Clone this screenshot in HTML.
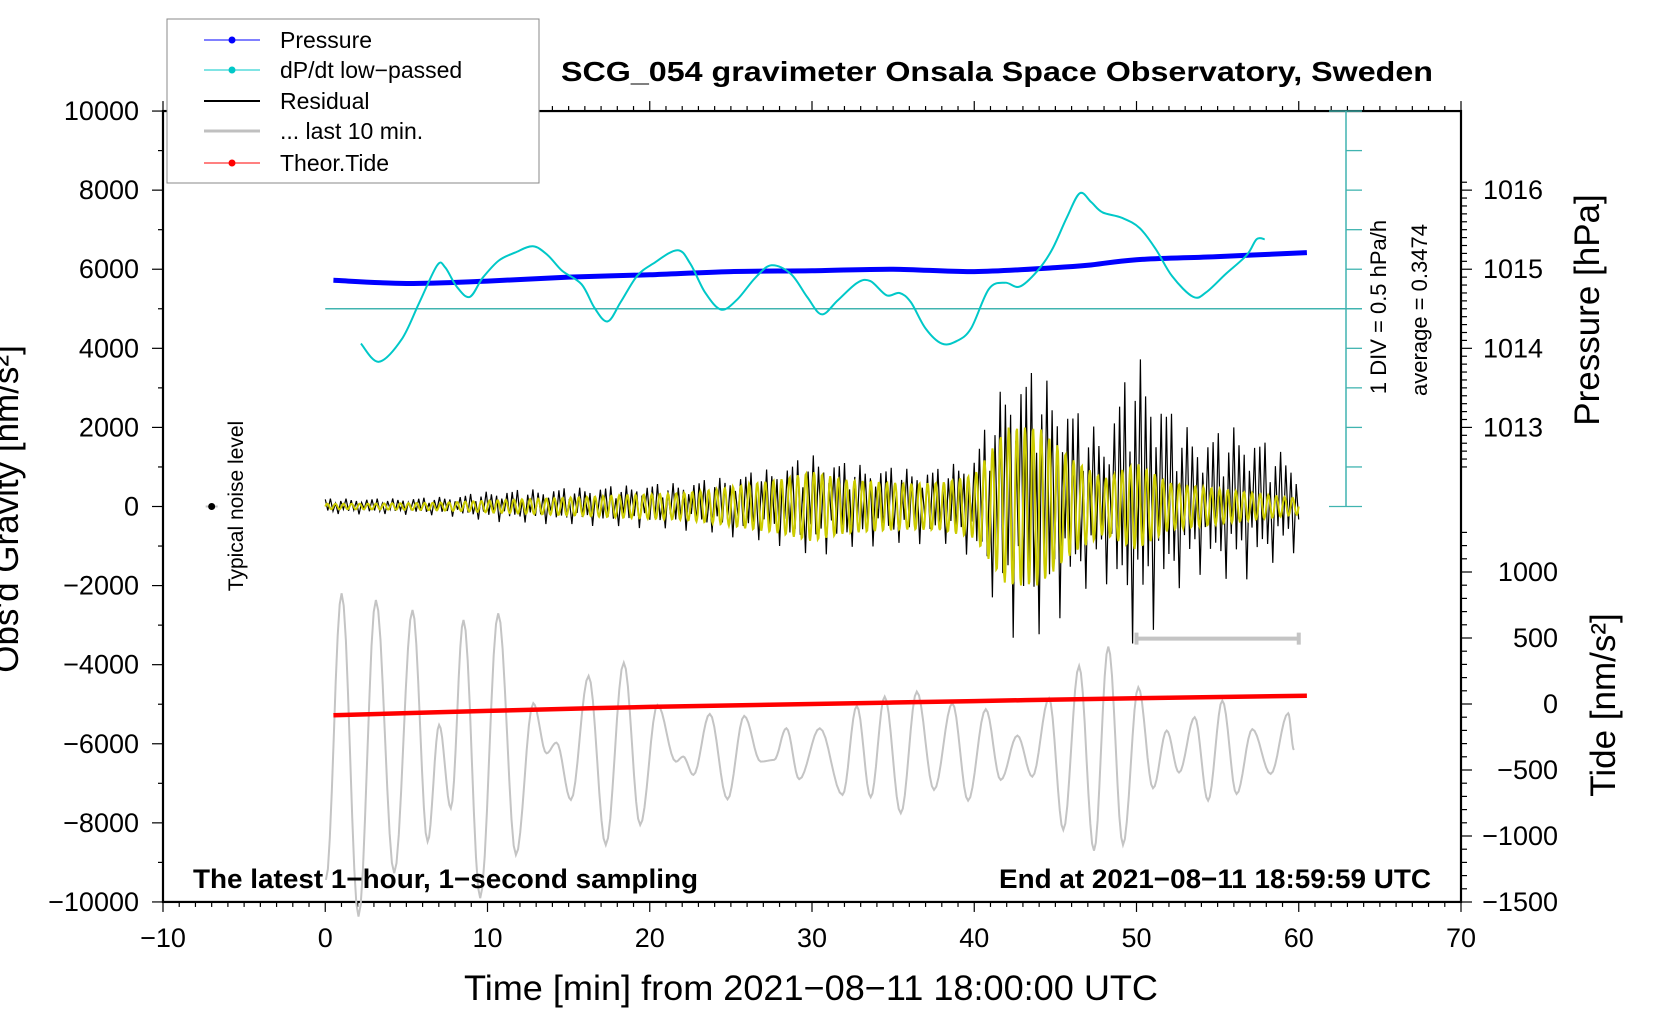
<!DOCTYPE html>
<html><head><meta charset="utf-8"><style>
html,body{margin:0;padding:0;background:#fff;}
svg{display:block;font-family:"Liberation Sans",Arial,sans-serif;}
</style></head><body>
<svg id="chart" width="1660" height="1020" viewBox="0 0 1660 1020" xmlns="http://www.w3.org/2000/svg">
<g id="axes"></g>
<g id="series"></g>
<g id="labels">
<text x="561" y="81" font-size="28" font-weight="bold" textLength="872" lengthAdjust="spacingAndGlyphs">SCG_054 gravimeter Onsala Space Observatory, Sweden</text>
<text x="193" y="888" font-size="27" font-weight="bold" textLength="505" lengthAdjust="spacingAndGlyphs">The latest 1−hour, 1−second sampling</text>
<text x="999" y="888" font-size="27" font-weight="bold" textLength="432" lengthAdjust="spacingAndGlyphs">End at 2021−08−11 18:59:59 UTC</text>
<text x="464" y="1000" font-size="35" textLength="694" lengthAdjust="spacingAndGlyphs">Time [min] from 2021−08−11 18:00:00 UTC</text>
<text transform="translate(18,509) rotate(-90)" text-anchor="middle" font-size="35">Obs'd Gravity [nm/s²]</text>
<text transform="translate(1599,310) rotate(-90)" text-anchor="middle" font-size="35">Pressure [hPa]</text>
<text transform="translate(1615,705) rotate(-90)" text-anchor="middle" font-size="35">Tide [nm/s²]</text>
<text transform="translate(1386,307) rotate(-90)" text-anchor="middle" font-size="22">1 DIV = 0.5 hPa/h</text>
<text transform="translate(1427,310) rotate(-90)" text-anchor="middle" font-size="22">average = 0.3474</text>
<text transform="translate(243,506) rotate(-90)" text-anchor="middle" font-size="21">Typical noise level</text>
</g>
<g id="legend">
<rect x="167" y="19" width="372" height="164" fill="#fff" stroke="#888" stroke-width="1"/>
<g><line x1="204" y1="40" x2="260" y2="40" stroke="#0000ff" stroke-width="1"/><circle cx="232" cy="40" r="3.5" fill="#0000ff"/><text x="280" y="48" font-size="23">Pressure</text></g>
<g><line x1="204" y1="70" x2="260" y2="70" stroke="#00c8c8" stroke-width="1"/><circle cx="232" cy="70" r="3.5" fill="#00c8c8"/><text x="280" y="78" font-size="23">dP/dt low−passed</text></g>
<g><line x1="204" y1="101" x2="260" y2="101" stroke="#000" stroke-width="2"/><text x="280" y="109" font-size="23">Residual</text></g>
<g><line x1="204" y1="131" x2="260" y2="131" stroke="#c0c0c0" stroke-width="3"/><text x="280" y="139" font-size="23">... last 10 min.</text></g>
<g><line x1="204" y1="163" x2="260" y2="163" stroke="#ff0000" stroke-width="1"/><circle cx="232" cy="163" r="3.5" fill="#ff0000"/><text x="280" y="171" font-size="23">Theor.Tide</text></g>
</g>
</svg>
<script>
// ---- data ----
const xTicks = [-10,0,10,20,30,40,50,60,70];
const yTicks = [10000,8000,6000,4000,2000,0,-2000,-4000,-6000,-8000,-10000];
const pTicks = [1013,1014,1015,1016];
const tideTicks = [1000,500,0,-500,-1000,-1500];
const pressureT = [0.5,5,10,15,20,25,30,35,40,45,47,50,55,60.5];
const pressureV = [1014.86,1014.82,1014.85,1014.90,1014.93,1014.97,1014.98,1015.0,1014.97,1015.02,1015.05,1015.12,1015.16,1015.21];
const dpdtT = [2.2,3.3,4.7,5.8,6.9,7.4,8.1,8.9,9.7,10.7,11.7,12.8,13.7,14.6,15.8,16.6,17.4,18.2,19.2,20.2,21.7,22.5,23.4,24.4,25.4,26.5,27.5,28.7,29.7,30.6,31.6,32.8,33.6,34.6,35.4,36.1,37.0,38.0,38.9,39.8,40.9,41.9,42.8,43.9,44.8,45.7,46.5,47.2,47.9,49.1,50.2,51.2,52.2,53.5,54.3,55.5,56.8,57.4,57.9];
const dpdtV = [-0.44,-0.67,-0.39,0.08,0.55,0.52,0.28,0.15,0.39,0.61,0.71,0.79,0.68,0.48,0.31,0.01,-0.16,0.08,0.41,0.57,0.74,0.57,0.21,-0.01,0.12,0.39,0.55,0.44,0.15,-0.07,0.11,0.33,0.35,0.17,0.2,0.08,-0.25,-0.44,-0.41,-0.25,0.25,0.33,0.28,0.48,0.75,1.15,1.46,1.35,1.22,1.15,1.02,0.75,0.41,0.15,0.21,0.44,0.68,0.88,0.88];
const tideT = [0.5,10,20,30,40,50,60.5];
const tideV = [-85,-52,-22,0,22,44,62];
const envT = [0,2,4,6,8,10,12,14,16,18,20,22,24,26,28,30,32,34,36,38,40,42,44,46,48,50,52,54,56,58,60];
const residualEnv = [200,200,200,220,260,380,420,450,480,520,560,600,700,840,1000,1300,1100,1000,950,950,1300,3300,3400,2500,1800,3900,2400,1700,2000,1600,1100];
const filteredEnv = [70,70,80,90,110,150,180,210,240,280,310,340,430,560,680,880,680,620,580,600,800,2000,2000,1200,700,1100,600,500,400,300,200];
const residualJitter = [0.9,0.5,1.0,0.6,0.4,0.95,0.7,0.35,1.0,0.55,0.8,0.45,0.7,1.0,0.5,0.3,0.85,0.6];
const lastTenT = [0.04,1.01,2.05,3.12,4.25,5.38,6.31,7.02,7.74,8.52,9.55,10.66,11.75,12.82,13.64,14.25,15.14,16.23,17.29,18.4,19.41,20.48,21.61,22.06,22.69,23.7,24.79,25.82,26.84,27.66,28.42,29.21,30.48,31.88,32.76,33.62,34.48,35.47,36.46,37.52,38.65,39.62,40.71,41.63,42.66,43.58,44.61,45.49,46.46,47.38,48.26,49.17,50.11,51.02,51.86,52.62,53.59,54.41,55.29,56.17,57.14,58.27,59.35,59.7];
const lastTenV = [-9442,-2195,-10370,-2364,-9273,-2617,-8474,-5524,-7630,-2869,-9905,-2700,-8810,-4975,-6240,-5971,-7420,-4285,-8557,-3949,-8052,-5018,-6451,-6325,-6788,-5246,-7403,-5296,-6451,-6409,-5608,-6897,-5608,-7293,-5043,-7352,-4808,-7756,-4682,-7167,-4975,-7437,-5127,-6914,-5794,-6831,-4849,-8178,-4032,-8701,-3544,-8557,-4571,-7124,-5668,-6730,-5329,-7437,-4909,-7268,-5632,-6762,-5228,-6156];
const noiseLevel = {t:-7, g:0};

// ---- scales ----
const X = t => 163 + (t + 10) * 16.225;
const G = g => 506.5 - g * 0.039545;
const P = p => G(6000 + (p - 1015) * 2000);
const T = v => 704 - v * 0.132;
const C = v => G(5000 + v * 2000);

const NS = 'http://www.w3.org/2000/svg';
const axes = document.getElementById('axes');
const series = document.getElementById('series');
function mk(tag, attrs, parent){
  const e = document.createElementNS(NS, tag);
  for (const k in attrs) e.setAttribute(k, attrs[k]);
  parent.appendChild(e);
  return e;
}
function interp(ts, vs, t){
  if (t <= ts[0]) return vs[0];
  for (let i=1;i<ts.length;i++){ if (t <= ts[i]) { const f=(t-ts[i-1])/(ts[i]-ts[i-1]); return vs[i-1]+f*(vs[i]-vs[i-1]); } }
  return vs[vs.length-1];
}
function smoothPath(pts){
  let d = 'M'+pts[0][0].toFixed(1)+','+pts[0][1].toFixed(1);
  for (let i=0;i<pts.length-1;i++){
    const p0=pts[Math.max(i-1,0)], p1=pts[i], p2=pts[i+1], p3=pts[Math.min(i+2,pts.length-1)];
    const c1=[p1[0]+(p2[0]-p0[0])/6, p1[1]+(p2[1]-p0[1])/6];
    const c2=[p2[0]-(p3[0]-p1[0])/6, p2[1]-(p3[1]-p1[1])/6];
    d += ' C'+c1[0].toFixed(1)+','+c1[1].toFixed(1)+' '+c2[0].toFixed(1)+','+c2[1].toFixed(1)+' '+p2[0].toFixed(1)+','+p2[1].toFixed(1);
  }
  return d;
}

// ---- axes frame ----
const L = X(-10), R = X(70), TOP = G(10000), BOT = G(-10000);
const frame = mk('rect', {x:L, y:TOP, width:R-L, height:BOT-TOP, fill:'none', stroke:'#000', 'stroke-width':2.2}, axes);



for (let m=-10; m<=70; m++){
  const major = m % 10 === 0;
  const len = major ? 10 : 5;
  const tb = mk('line', {x1:X(m), x2:X(m), y1:BOT, y2:BOT+len, stroke:'#000', 'stroke-width':1.2}, axes);
  
  
  const tt = mk('line', {x1:X(m), x2:X(m), y1:TOP, y2:TOP-len, stroke:'#000', 'stroke-width':1.2}, axes);
  
  
}
xTicks.forEach(v => {
  const tx = mk('text', {x:X(v), y:947, 'font-size':27, 'text-anchor':'middle'}, axes);
  tx.textContent = v < 0 ? '−' + Math.abs(v) : String(v);
  
  
});
for (let g=-10000; g<=10000; g+=1000){
  const major = g % 2000 === 0;
  const tl = mk('line', {x1:L, x2:L-(major?11:5), y1:G(g), y2:G(g), stroke:'#000', 'stroke-width':1.2}, axes);
  
  
}
yTicks.forEach(v => {
  const ty = mk('text', {x:139, y:G(v)+9, 'font-size':27, 'text-anchor':'end'}, axes);
  ty.textContent = v < 0 ? '−' + Math.abs(v) : String(v);
  
  
});
for (let k=0; k<=36; k++){
  const p = 1012.5 + k*0.1;
  const y = P(p);
  if (y < TOP - 0.5 || y > G(0)) continue;
  const major = Math.abs(p - Math.round(p)) < 1e-6;
  const tp = mk('line', {x1:R, x2:R+(major?11:6), y1:y, y2:y, stroke:'#000', 'stroke-width':1.2}, axes);
  
  
}
pTicks.forEach(v => {
  const tp = mk('text', {x:1483, y:P(v)+9, 'font-size':27}, axes);
  tp.textContent = String(v);
  
  
});
for (let v=-1500; v<=1300; v+=100){
  const major = v % 500 === 0;
  const tt = mk('line', {x1:R, x2:R+(major?11:6), y1:T(v), y2:T(v), stroke:'#000', 'stroke-width':1.2}, axes);
  
  
}
tideTicks.forEach(v => {
  const tl = mk('text', {x:1558, y:T(v)+9, 'font-size':27, 'text-anchor':'end'}, axes);
  tl.textContent = v < 0 ? '−' + Math.abs(v) : String(v);
  
  
});

// ---- cyan dP/dt scale bar ----
const barX = 1346, teal = '#40b4b0';
const zl = mk('line', {x1:X(0), x2:1362, y1:C(0), y2:C(0), stroke:teal, 'stroke-width':1.5}, series);


const vb = mk('line', {x1:barX, x2:barX, y1:G(10000), y2:G(0), stroke:teal, 'stroke-width':1.5}, series);


for (let g=0; g<=10000; g+=1000){
  const end = (g===0 || g===10000);
  const sb = mk('line', {x1:end?1329:barX, x2:1362, y1:G(g), y2:G(g), stroke:teal, 'stroke-width':1.3}, series);
  
  
}

// ---- gray last-10-min ----
let gd = '';
for (let i=0;i<lastTenT.length;i++){
  if (i===0){ gd = 'M'+X(lastTenT[0]).toFixed(1)+','+G(lastTenV[0]).toFixed(1); continue; }
  const t0=lastTenT[i-1], t1=lastTenT[i], v0=lastTenV[i-1], v1=lastTenV[i];
  for (let s=1;s<=8;s++){
    const f=s/8, w=(1-Math.cos(Math.PI*f))/2;
    gd += ' L'+X(t0+(t1-t0)*f).toFixed(1)+','+G(v0+(v1-v0)*w).toFixed(1);
  }
}
const grayPath = mk('path', {d:gd, fill:'none', stroke:'#c4c4c4', 'stroke-width':2}, series);



const rb = mk('path', {d:'M'+X(50)+','+(G(-3340)-6)+' V'+(G(-3340)+6)+' M'+X(50)+','+G(-3340)+' H'+X(60)+' M'+X(60)+','+(G(-3340)-6)+' V'+(G(-3340)+6), fill:'none', stroke:'#c4c4c4', 'stroke-width':4}, series);



// ---- residual (black) ----
let rd = '';
let k = 0;
for (let t=0; t<=60; t+=0.16, k++){
  const a = interp(envT, residualEnv, t) * residualJitter[k % residualJitter.length] * (k%2===0?1:-1);
  rd += (k===0?'M':' L') + X(t).toFixed(1) + ',' + G(a).toFixed(1);
}
const resPath = mk('path', {d:rd, fill:'none', stroke:'#000', 'stroke-width':1.2}, series);



// ---- filtered (yellow) ----
let yd = '';
k = 0;
for (let t=0; t<=60; t+=0.04, k++){
  const a = interp(envT, filteredEnv, t) * Math.sin(2*Math.PI*t/0.5);
  yd += (k===0?'M':' L') + X(t).toFixed(1) + ',' + G(a).toFixed(1);
}
const yPath = mk('path', {d:yd, fill:'none', stroke:'#cccc00', 'stroke-width':2}, series);



// ---- pressure ----
const pp = pressureT.map((t,i)=>[X(t), P(pressureV[i])]);
const pPath = mk('path', {d:smoothPath(pp), fill:'none', stroke:'#0000ff', 'stroke-width':5}, series);



// ---- dP/dt ----
const cp = dpdtT.map((t,i)=>[X(t), C(dpdtV[i])]);
const cPath = mk('path', {d:smoothPath(cp), fill:'none', stroke:'#00c8c8', 'stroke-width':2}, series);



// ---- tide ----
const tp = tideT.map((t,i)=>[X(t), T(tideV[i])]);
const tPath = mk('path', {d:smoothPath(tp), fill:'none', stroke:'#ff0000', 'stroke-width':4.5}, series);



// ---- noise level marker ----
const nl = mk('line', {x1:X(noiseLevel.t)-6, x2:X(noiseLevel.t)+6, y1:G(noiseLevel.g), y2:G(noiseLevel.g), stroke:'#c4c4c4', 'stroke-width':2}, series);


const nd = mk('circle', {cx:X(noiseLevel.t), cy:G(noiseLevel.g), r:3.5, fill:'#000'}, series);


</script>
</body></html>
